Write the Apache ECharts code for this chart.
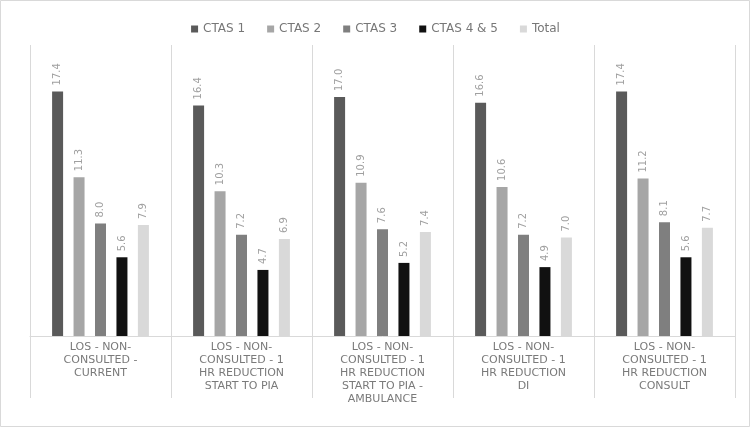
<!DOCTYPE html>
<html><head><meta charset="utf-8">
<script src="https://cdn.jsdelivr.net/npm/echarts@6/dist/echarts.min.js"></script>
<style>html,body{margin:0;padding:0;background:#fff}#c{width:751px;height:428px}</style>
</head><body><div id="c"></div>
<script>
const categories = [
  "LOS - NON-\nCONSULTED -\nCURRENT",
  "LOS - NON-\nCONSULTED - 1\nHR REDUCTION\nSTART TO PIA",
  "LOS - NON-\nCONSULTED - 1\nHR REDUCTION\nSTART TO PIA -\nAMBULANCE",
  "LOS - NON-\nCONSULTED - 1\nHR REDUCTION\nDI",
  "LOS - NON-\nCONSULTED - 1\nHR REDUCTION\nCONSULT"
];
const seriesNames = ["CTAS 1", "CTAS 2", "CTAS 3", "CTAS 4 & 5", "Total"];
const ctas1 = [17.4, 16.4, 17.0, 16.6, 17.4];
const ctas2 = [11.3, 10.3, 10.9, 10.6, 11.2];
const ctas3 = [8.0, 7.2, 7.6, 7.2, 8.1];
const ctas45 = [5.6, 4.7, 5.2, 4.9, 5.6];
const total = [7.9, 6.9, 7.4, 7.0, 7.7];
const colors = ["#5a5a5a", "#a6a6a6", "#7f7f7f", "#111111", "#d9d9d9"];

const chart = echarts.init(document.getElementById('c'));
const all = [ctas1, ctas2, ctas3, ctas45, total];
chart.setOption({
  animation: false,
  backgroundColor: '#fff',
  graphic: [{type:'rect', shape:{x:0.5,y:0.5,width:749,height:426}, style:{fill:'none', stroke:'#d9d9d9', lineWidth:1}}],
  legend: {
    top: 18, left: 'center', itemWidth: 7, itemHeight: 7, itemGap: 22,
    icon: 'rect',
    textStyle: {color: '#777', fontSize: 12, fontFamily: 'DejaVu Sans'},
    data: seriesNames
  },
  grid: {left: 30, right: 16, top: 45, bottom: 92, containLabel: false},
  xAxis: {
    type: 'category', data: categories,
    axisLine: {lineStyle: {color: '#d9d9d9'}},
    axisTick: {show: true, length: 62, lineStyle: {color: '#d9d9d9'}},
    splitLine: {show: true, lineStyle: {color: '#d9d9d9'}},
    axisLabel: {color: '#7a7a7a', fontSize: 11, lineHeight: 13, fontFamily: 'DejaVu Sans', interval: 0, margin: 5}
  },
  yAxis: {type: 'value', min: 0, max: 20.7, show: false, splitLine: {show: false}},
  series: all.map((d, i) => ({
    name: seriesNames[i], type: 'bar', data: d, barWidth: 11, barGap: '95%', barCategoryGap: '31%',
    itemStyle: {color: colors[i]},
    label: {show: true, position: 'top', rotate: 90, align: 'left', verticalAlign: 'middle', distance: 6,
      color: '#a0a0a0', fontSize: 10, fontFamily: 'DejaVu Sans', formatter: p => p.value.toFixed(1)}
  }))
});
</script></body></html>
